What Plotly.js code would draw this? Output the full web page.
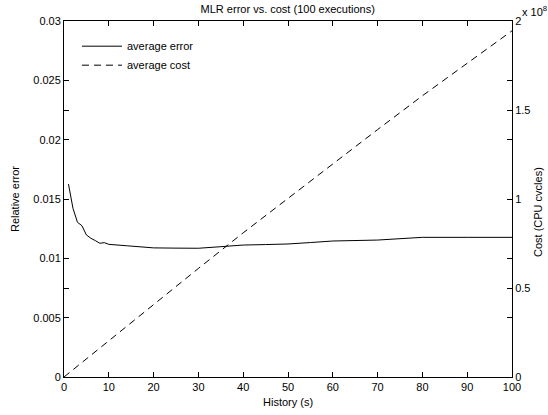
<!DOCTYPE html>
<html>
<head>
<meta charset="utf-8">
<script src="https://cdn.plot.ly/plotly-3.0.1.min.js"></script>
<style>html,body{margin:0;padding:0;background:#fff}#chart{width:548px;height:415px}</style>
</head>
<body>
<div id="chart"></div>
<script>
// History (s) at which the average error was sampled
const historyErr = [1, 2, 3, 4, 5, 6, 7, 8, 9, 10, 14, 20, 25, 30, 35, 40, 45, 50, 55, 60, 70, 80, 90, 100];
// Average relative error
const avgError = [0.01626, 0.01422, 0.01304, 0.01275, 0.01197, 0.01169, 0.01149, 0.01127, 0.01132, 0.01118,
                  0.01106, 0.01088, 0.01086, 0.01085, 0.01098, 0.01112, 0.01116, 0.01121, 0.01133, 0.01146,
                  0.01154, 0.01177, 0.01177, 0.01177];
// History (s) at which the average cost was sampled
const historyCost = [0, 10, 20, 30, 40, 50, 60, 70, 80, 90, 100];
// Average cost (CPU cycles)
const avgCost = [0, 0.204e8, 0.408e8, 0.61e8, 0.81e8, 1.005e8, 1.2e8, 1.39e8, 1.58e8, 1.765e8, 1.945e8];

const xTicks = [0, 10, 20, 30, 40, 50, 60, 70, 80, 90, 100];
const yTicks = [0, 0.005, 0.01, 0.015, 0.02, 0.025, 0.03];
const yTickText = ['0', '0.005', '0.01', '0.015', '0.02', '0.025', '0.03'];
const y2Ticks = [0, 0.5e8, 1e8, 1.5e8, 2e8];
const y2TickText = ['0', '0.5', '1', '1.5', '2'];

const font = {family: 'Liberation Sans, Arial, Helvetica, sans-serif', size: 11, color: '#000'};

const traces = [
  {x: historyErr, y: avgError, type: 'scatter', mode: 'lines', name: 'average error',
   line: {color: '#000', width: 1}, yaxis: 'y'},
  {x: historyCost, y: avgCost, type: 'scatter', mode: 'lines', name: 'average cost',
   line: {color: '#000', width: 1, dash: '7px,5px'}, yaxis: 'y2'}
];

const axisCommon = {
  showgrid: false, zeroline: false, linecolor: '#000', linewidth: 1,
  ticks: 'inside', ticklen: 5, tickcolor: '#000', tickwidth: 1, tickfont: font
};

const layout = {
  width: 548, height: 415,
  margin: {l: 64, r: 36, t: 21, b: 38},
  paper_bgcolor: '#fff', plot_bgcolor: '#fff',
  font: font,
  showlegend: true,
  title: {text: 'MLR error vs. cost (100 executions)', font: font,
          x: 0.525, xanchor: 'center', y: 1 - 9/415, yanchor: 'middle', yref: 'container'},
  xaxis: Object.assign({}, axisCommon, {
    range: [0, 100], tickvals: xTicks, ticktext: xTicks.map(String),
    mirror: 'ticks', showline: true
  }),
  yaxis: Object.assign({}, axisCommon, {
    range: [0, 0.03], tickvals: yTicks, ticktext: yTickText,
    mirror: 'ticks', showline: true
  }),
  yaxis2: Object.assign({}, axisCommon, {
    range: [0, 2e8], tickvals: y2Ticks, ticktext: y2TickText,
    overlaying: 'y', side: 'right', mirror: 'ticks', showline: true
  }),
  legend: {x: 0.029, y: 0.97, xanchor: 'left', yanchor: 'top', bgcolor: 'rgba(0,0,0,0)',
           borderwidth: 0, font: font, itemwidth: 40, tracegroupgap: 0},
  annotations: [
    {text: 'History (s)', xref: 'paper', yref: 'paper', x: 0.5, y: -(402-377)/356,
     xanchor: 'center', yanchor: 'middle', showarrow: false, font: font},
    {text: 'Relative error', xref: 'paper', yref: 'paper', x: -(64-15)/448, y: 0.5,
     xanchor: 'center', yanchor: 'middle', textangle: -90, showarrow: false, font: font},
    {text: 'Cost (CPU cvcles)', xref: 'paper', yref: 'paper', x: 1 + (538-512)/448, y: (377-212)/356,
     xanchor: 'center', yanchor: 'middle', textangle: -90, showarrow: false, font: font},
    {text: 'x 10<sup>8</sup>', xref: 'paper', yref: 'paper', x: 1 + (520-512)/448, y: 1 + (21-11)/356,
     xanchor: 'left', yanchor: 'middle', showarrow: false, font: font}
  ]
};

Plotly.newPlot('chart', traces, layout, {displayModeBar: false, staticPlot: true});
</script>
</body>
</html>
